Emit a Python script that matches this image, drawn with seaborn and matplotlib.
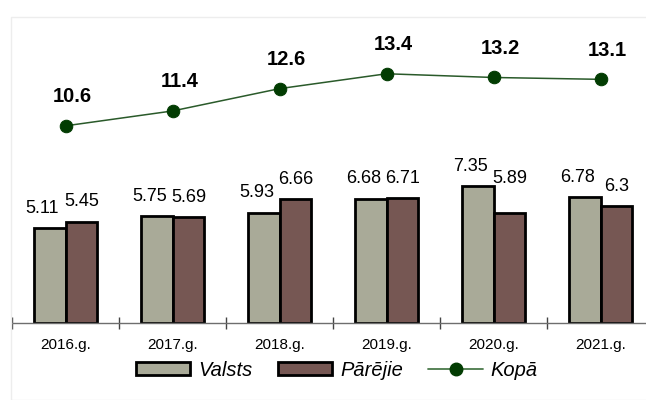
import numpy as np
import pandas as pd
import matplotlib.pyplot as plt
import seaborn as sns
from matplotlib.patches import Patch, Rectangle
from matplotlib.lines import Line2D

# values
years = ['2016.g.', '2017.g.', '2018.g.', '2019.g.', '2020.g.', '2021.g.']
valsts = [5.11, 5.75, 5.93, 6.68, 7.35, 6.78]
parejie = [5.45, 5.69, 6.66, 6.71, 5.89, 6.3]
kopa = [10.6, 11.4, 12.6, 13.4, 13.2, 13.1]
series_names = ['Valsts', 'Pārējie', 'Kopā']

col_valsts = '#a9aa98'
col_parejie = '#765753'
col_line = '#2a5a2a'
col_marker = '#023c02'

sns.set_style('white')
plt.rcParams['font.family'] = ['Liberation Sans', 'DejaVu Sans']
plt.rcParams['text.color'] = 'black'
plt.rcParams['xtick.color'] = 'black'

df = pd.DataFrame({'year': years * 2,
                   'value': valsts + parejie,
                   'series': [series_names[0]] * 6 + [series_names[1]] * 6})

fig = plt.figure(figsize=(6.46, 4.0), dpi=100)
# faint frame around the chart area
fig.patches.append(Rectangle((11 / 646, 0), 1, 1 - 17 / 400, transform=fig.transFigure,
                             fill=False, edgecolor='#ededed', linewidth=1))
ax = fig.add_axes([12 / 646, 77 / 400, 642 / 646, 306 / 400])

sns.barplot(data=df, x='year', y='value', hue='series', order=years,
            hue_order=series_names[:2], palette=[col_valsts, col_parejie],
            width=0.58, edgecolor='black', linewidth=2.0, saturation=1,
            legend=False, ax=ax)

x = np.arange(len(years))
sns.lineplot(x=x, y=kopa, color=col_line, linewidth=1.1, marker='o', markersize=9,
             markerfacecolor=col_marker, markeredgecolor=col_marker, ax=ax)

# bar value labels
nudge = {(1, 4): 11}
for i, (a, b) in enumerate(zip(valsts, parejie)):
    for j, v in enumerate((a, b)):
        xc = i - 0.145 if j == 0 else i + 0.145
        dx = -5.5 if j == 0 else 0.5
        ax.annotate(f'{v:g}', (xc, v), xytext=(dx, 11 + nudge.get((j, i), 0)),
                    textcoords='offset points', ha='center', va='baseline',
                    fontsize=13)

# total labels
for i, v in enumerate(kopa):
    ax.annotate(f'{v:g}', (i, v), xytext=(5, 21), textcoords='offset points',
                ha='center', va='center', fontsize=14.5, fontweight='bold')

ax.set_xlim(-0.5, 5.5)
ax.set_ylim(0, 306 / 18.6)
ax.set_xlabel('')
ax.set_ylabel('')
ax.set_yticks([])
for s in ['top', 'right', 'left']:
    ax.spines[s].set_visible(False)
ax.spines['bottom'].set_color('#6e6e6e')
ax.spines['bottom'].set_linewidth(1)
ax.set_xticks(x)
ax.set_xticklabels(years, fontsize=11)
ax.tick_params(axis='x', which='major', bottom=False, length=0, pad=11)
ax.set_xticks(np.arange(-0.5, 6, 1), minor=True)
ax.tick_params(axis='x', which='minor', bottom=True, direction='inout', length=8,
               width=1, color='#444444')
ax.patch.set_alpha(0)

handles = [Patch(facecolor=col_valsts, edgecolor='black', linewidth=2),
           Patch(facecolor=col_parejie, edgecolor='black', linewidth=2),
           Line2D([], [], color='#4a7a4a', linewidth=1.3, marker='o', markersize=9,
                  markerfacecolor=col_marker, markeredgecolor=col_marker)]
leg = fig.legend(handles, series_names, loc='center', bbox_to_anchor=(337 / 646, 1 - 370 / 400),
                 ncol=3, frameon=False, handlelength=2.7, handleheight=0.65,
                 handletextpad=0.4, columnspacing=1.25,
                 prop={'size': 14.5, 'style': 'italic'})

fig.savefig('out.png', dpi=100)
